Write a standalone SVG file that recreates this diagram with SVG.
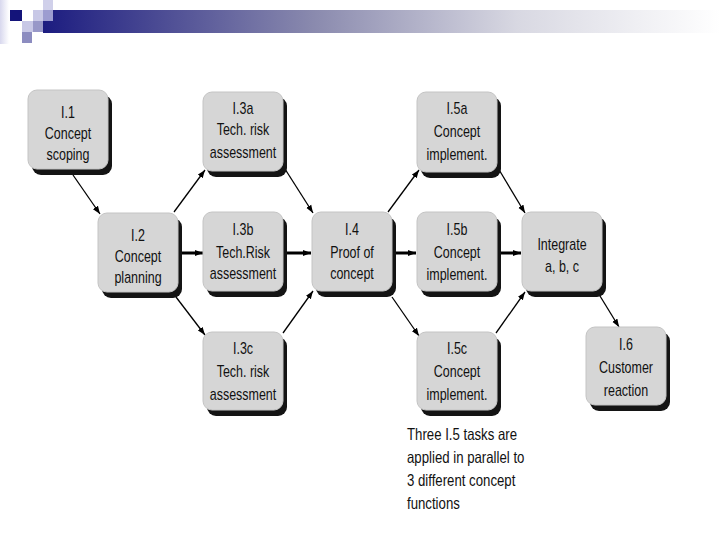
<svg xmlns="http://www.w3.org/2000/svg" width="720" height="540" viewBox="0 0 720 540">
<defs>
<linearGradient id="bar" x1="0" y1="0" x2="1" y2="0">
<stop offset="0" stop-color="#1c1c80"/>
<stop offset="0.4" stop-color="#8a8aae"/>
<stop offset="0.7" stop-color="#d8d8e2"/>
<stop offset="1" stop-color="#ffffff"/>
</linearGradient>
<linearGradient id="strip" x1="0" y1="0" x2="1" y2="0">
<stop offset="0" stop-color="#d8d8ee"/>
<stop offset="1" stop-color="#ffffff"/>
</linearGradient>
<marker id="ah" markerUnits="userSpaceOnUse" markerWidth="9" markerHeight="7" refX="8" refY="3.5" orient="auto">
<path d="M0,0.5 L8,3.5 L0,6.5 z" fill="#000"/>
</marker>
<clipPath id="clipNote"><rect x="400" y="420" width="200" height="90"/></clipPath>
</defs>
<style>
.shadow{fill:#141414}
.box{fill:#d6d6d6;stroke:#c4c4c4;stroke-width:1}
.t{font-family:"Liberation Sans",Arial,sans-serif;font-size:16px;fill:#111;text-anchor:middle}
.note{font-family:"Liberation Sans",Arial,sans-serif;font-size:16.5px;fill:#111}
.thin{stroke:#000;stroke-width:1.3;fill:none;marker-end:url(#ah)}
.thick{stroke:#000;stroke-width:3;fill:none;marker-end:url(#ah)}
</style>
<rect width="720" height="540" fill="#fff"/>
<g id="header">
<rect x="0" y="0" width="9" height="44" fill="url(#strip)"/>
<rect x="43" y="10" width="677" height="23" fill="url(#bar)"/>
<rect x="10" y="10" width="12" height="11" fill="#14147a"/>
<rect x="33" y="10" width="10" height="11" fill="#c8c8e6"/>
<rect x="43" y="0" width="10" height="10" fill="#d0d0ea"/>
<rect x="43" y="10" width="10" height="11" fill="#9c9cd0"/>
<rect x="22" y="21" width="11" height="11" fill="#c8c8e6"/>
<rect x="33" y="21" width="10" height="11" fill="#9898c8"/>
<rect x="22" y="32" width="10" height="11" fill="#8c8cc0"/>
</g>
<g id="connectors">
<line class="thin" x1="73" y1="175" x2="100" y2="214"/>
<line class="thin" x1="174" y1="212" x2="205" y2="170"/>
<line class="thick" x1="181" y1="253" x2="203" y2="253"/>
<line class="thin" x1="176" y1="297" x2="205" y2="335"/>
<line class="thin" x1="285" y1="169" x2="313" y2="213"/>
<line class="thick" x1="287" y1="253" x2="311" y2="253"/>
<line class="thin" x1="283" y1="333" x2="313" y2="291"/>
<line class="thin" x1="388" y1="212" x2="419" y2="170"/>
<line class="thick" x1="396" y1="253" x2="416" y2="253"/>
<line class="thin" x1="392" y1="297" x2="419" y2="336"/>
<line class="thin" x1="498" y1="168" x2="525" y2="213"/>
<line class="thick" x1="501" y1="253" x2="521" y2="253"/>
<line class="thin" x1="496" y1="333" x2="525" y2="292"/>
<line class="thin" x1="600" y1="296" x2="619" y2="327"/>
</g>
<g id="n11"><rect class="shadow" x="32" y="95" width="80" height="80" rx="9"/><rect class="box" x="28" y="90" width="80" height="79" rx="9"/>
<text class="t" transform="translate(68 118) scale(0.78 1)">I.1</text><text class="t" transform="translate(68 139) scale(0.78 1)">Concept</text><text class="t" transform="translate(68 160) scale(0.78 1)">scoping</text></g>
<g id="n12"><rect class="shadow" x="102" y="218" width="80" height="80" rx="9"/><rect class="box" x="98" y="213" width="80" height="79" rx="9"/>
<text class="t" transform="translate(138 241) scale(0.78 1)">I.2</text><text class="t" transform="translate(138 262) scale(0.78 1)">Concept</text><text class="t" transform="translate(138 283) scale(0.78 1)">planning</text></g>
<g id="n13a"><rect class="shadow" x="207" y="97" width="80" height="80" rx="9"/><rect class="box" x="203" y="92" width="80" height="79" rx="9"/>
<text class="t" transform="translate(243 114) scale(0.78 1)">I.3a</text><text class="t" transform="translate(243 135) scale(0.78 1)">Tech. risk</text><text class="t" transform="translate(243 158) scale(0.78 1)">assessment</text></g>
<g id="n13b"><rect class="shadow" x="207" y="217" width="80" height="80" rx="9"/><rect class="box" x="203" y="212" width="80" height="79" rx="9"/>
<text class="t" transform="translate(243 235) scale(0.78 1)">I.3b</text><text class="t" transform="translate(243 258) scale(0.78 1)">Tech.Risk</text><text class="t" transform="translate(243 279) scale(0.78 1)">assessment</text></g>
<g id="n13c"><rect class="shadow" x="207" y="337" width="80" height="79" rx="9"/><rect class="box" x="203" y="332" width="80" height="78" rx="9"/>
<text class="t" transform="translate(243 354) scale(0.78 1)">I.3c</text><text class="t" transform="translate(243 377) scale(0.78 1)">Tech. risk</text><text class="t" transform="translate(243 400) scale(0.78 1)">assessment</text></g>
<g id="n14"><rect class="shadow" x="316" y="217" width="80" height="80" rx="9"/><rect class="box" x="312" y="212" width="80" height="79" rx="9"/>
<text class="t" transform="translate(352 235) scale(0.78 1)">I.4</text><text class="t" transform="translate(352 258) scale(0.78 1)">Proof of</text><text class="t" transform="translate(352 279) scale(0.78 1)">concept</text></g>
<g id="n15a"><rect class="shadow" x="421" y="97" width="80" height="81" rx="9"/><rect class="box" x="417" y="92" width="80" height="80" rx="9"/>
<text class="t" transform="translate(457 114) scale(0.78 1)">I.5a</text><text class="t" transform="translate(457 137) scale(0.78 1)">Concept</text><text class="t" transform="translate(457 160) scale(0.78 1)">implement.</text></g>
<g id="n15b"><rect class="shadow" x="421" y="217" width="80" height="80" rx="9"/><rect class="box" x="417" y="212" width="80" height="79" rx="9"/>
<text class="t" transform="translate(457 235) scale(0.78 1)">I.5b</text><text class="t" transform="translate(457 258) scale(0.78 1)">Concept</text><text class="t" transform="translate(457 280) scale(0.78 1)">implement.</text></g>
<g id="n15c"><rect class="shadow" x="421" y="337" width="80" height="79" rx="9"/><rect class="box" x="417" y="332" width="80" height="78" rx="9"/>
<text class="t" transform="translate(457 354) scale(0.78 1)">I.5c</text><text class="t" transform="translate(457 377) scale(0.78 1)">Concept</text><text class="t" transform="translate(457 400) scale(0.78 1)">implement.</text></g>
<g id="nInt"><rect class="shadow" x="526" y="217" width="80" height="80" rx="9"/><rect class="box" x="522" y="212" width="80" height="79" rx="9"/>
<text class="t" transform="translate(562 250) scale(0.78 1)">Integrate</text><text class="t" transform="translate(562 272) scale(0.78 1)">a, b, c</text></g>
<g id="n16"><rect class="shadow" x="590" y="332" width="80" height="79" rx="9"/><rect class="box" x="586" y="327" width="80" height="78" rx="9"/>
<text class="t" transform="translate(626 350) scale(0.78 1)">I.6</text><text class="t" transform="translate(626 373) scale(0.78 1)">Customer</text><text class="t" transform="translate(626 396) scale(0.78 1)">reaction</text></g>
<g id="note" clip-path="url(#clipNote)">
<text class="note" transform="translate(407 440) scale(0.8 1)">Three I.5 tasks are</text>
<text class="note" transform="translate(407 463) scale(0.8 1)">applied in parallel to</text>
<text class="note" transform="translate(407 486) scale(0.8 1)">3 different concept</text>
<text class="note" transform="translate(407 509) scale(0.8 1)">functions</text>
</g>
</svg>
